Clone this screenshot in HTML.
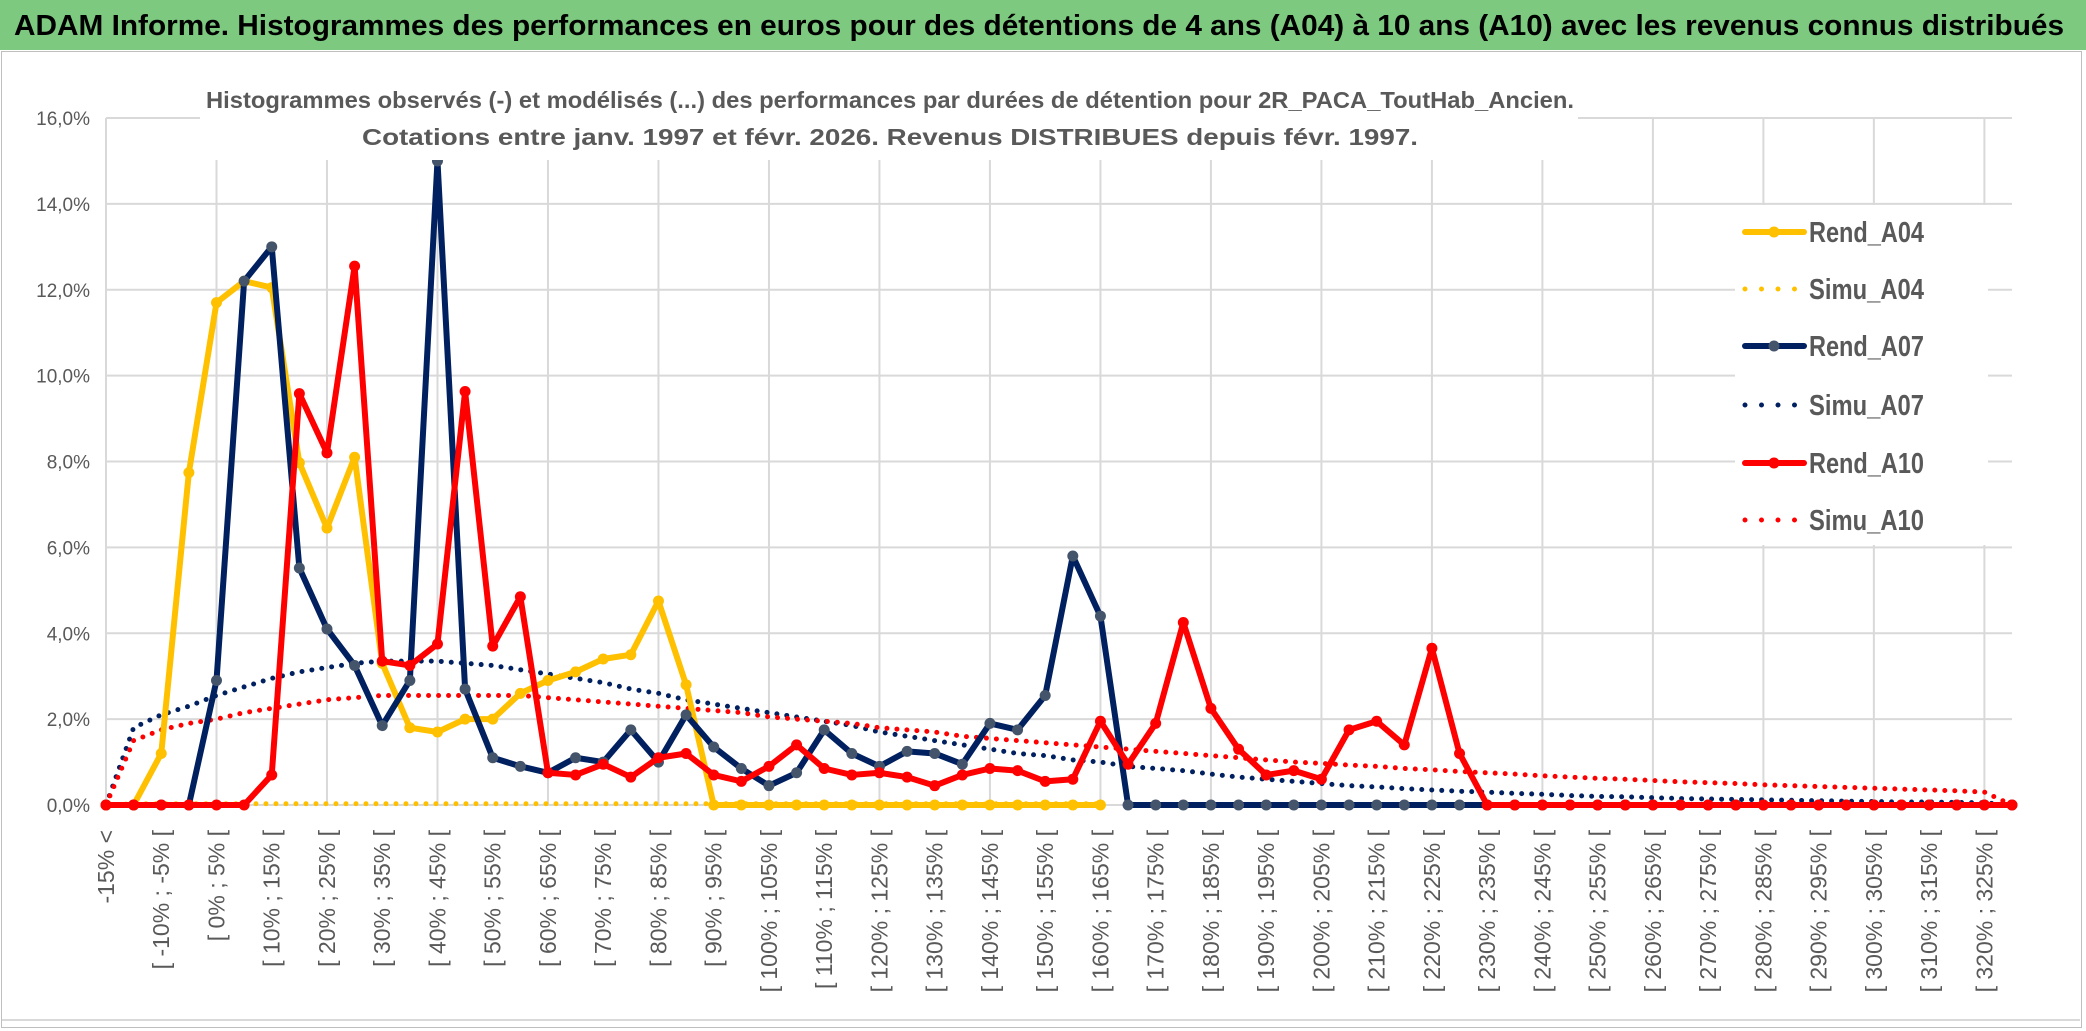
<!DOCTYPE html>
<html><head><meta charset="utf-8"><style>
html,body{margin:0;padding:0;background:#fff;}
svg{display:block;font-family:"Liberation Sans",sans-serif;}
</style></head><body>
<svg id="chart" width="2086" height="1031" viewBox="0 0 2086 1031">
<rect x="0" y="0" width="2086" height="1031" fill="#fff"/>
<rect x="0" y="0" width="2086" height="50" fill="#7dc97f"/>
<text x="14" y="35" font-size="29" font-weight="bold" fill="#000" textLength="2050" lengthAdjust="spacingAndGlyphs">ADAM Informe. Histogrammes des performances en euros pour des détentions de 4 ans (A04) à 10 ans (A10) avec les revenus connus distribués</text>
<rect x="1.5" y="51.5" width="2080" height="976" fill="none" stroke="#bfbfbf" stroke-width="1"/>
<line x1="2" x2="2080" y1="1020" y2="1020" stroke="#d9d9d9" stroke-width="2"/>
<g id="grid"></g>
<g id="series"></g>
<g id="axes"></g>
<rect x="200" y="80" width="1378" height="80" fill="#fff"/>
<text x="890" y="108" text-anchor="middle" font-size="23" font-weight="bold" fill="#595959" textLength="1368" lengthAdjust="spacingAndGlyphs">Histogrammes observés (-) et modélisés (...) des performances par durées de détention pour 2R_PACA_ToutHab_Ancien.</text>
<text x="890" y="145" text-anchor="middle" font-size="23" font-weight="bold" fill="#595959" textLength="1056" lengthAdjust="spacingAndGlyphs">Cotations entre janv. 1997 et févr. 2026. Revenus DISTRIBUES depuis févr. 1997.</text>
<g id="legend"></g>
</svg>
<script>
const categories = [];
categories.push('-15% <');
for (let a=-15; a<330; a+=5) categories.push('[ '+a+'% ; '+(a+5)+'% [');
const yTicks = [0,2,4,6,8,10,12,14,16];
const rendA04 = [0,0,1.2,7.74,11.7,12.2,12.05,7.97,6.45,8.1,3.3,1.8,1.7,2.0,2.0,2.6,2.9,3.1,3.4,3.5,4.75,2.8,0,0,0,0,0,0,0,0,0,0,0,0,0,0,0];
const simuA04 = [0,0.03,0.03,0.03,0.03,0.03,0.03,0.03,0.03,0.03,0.03,0.03,0.03,0.03,0.03,0.03,0.03,0.03,0.03,0.03,0.03,0.03,0.03,0.03,0.03,0.03,0.03,0.03,0.03,0.03,0.03,0.03,0.03,0.03,0.03,0.03,0.03];
const rendA07 = [0,0,0,0,2.9,12.2,13.0,5.52,4.1,3.25,1.85,2.9,15.0,2.7,1.1,0.9,0.75,1.1,1.0,1.75,1.0,2.1,1.35,0.85,0.45,0.75,1.75,1.2,0.9,1.25,1.2,0.95,1.9,1.75,2.55,5.8,4.4,0,0,0,0,0,0,0,0,0,0,0,0,0,0,0,0,0,0,0,0,0,0,0,0,0,0,0,0,0,0,0,0,0];
const simuA07 = [0,1.8,2.1,2.3,2.55,2.75,2.95,3.1,3.2,3.3,3.35,3.35,3.35,3.3,3.25,3.15,3.05,2.95,2.85,2.7,2.6,2.45,2.35,2.25,2.15,2.05,1.95,1.85,1.7,1.6,1.5,1.4,1.3,1.2,1.15,1.05,1.0,0.9,0.85,0.8,0.72,0.65,0.6,0.55,0.5,0.45,0.42,0.38,0.35,0.32,0.3,0.27,0.25,0.22,0.2,0.19,0.17,0.15,0.14,0.13,0.12,0.11,0.1,0.09,0.08,0.07,0.07,0.06,0.05,0];
const rendA10 = [0,0,0,0,0,0,0.7,9.58,8.2,12.55,3.35,3.25,3.75,9.63,3.7,4.85,0.75,0.7,0.95,0.65,1.1,1.2,0.7,0.55,0.9,1.4,0.85,0.7,0.75,0.65,0.45,0.7,0.85,0.8,0.55,0.6,1.95,0.95,1.9,4.25,2.25,1.3,0.7,0.8,0.6,1.75,1.95,1.4,3.65,1.2,0,0,0,0,0,0,0,0,0,0,0,0,0,0,0,0,0,0,0,0];
const simuA10 = [0,1.5,1.75,1.9,2.0,2.15,2.25,2.35,2.45,2.5,2.55,2.55,2.55,2.55,2.55,2.55,2.5,2.45,2.4,2.35,2.3,2.25,2.2,2.15,2.05,2.0,1.95,1.9,1.8,1.75,1.7,1.6,1.55,1.5,1.45,1.4,1.35,1.3,1.25,1.2,1.15,1.1,1.05,1.0,0.97,0.93,0.9,0.85,0.82,0.78,0.75,0.72,0.68,0.65,0.62,0.6,0.57,0.54,0.52,0.5,0.47,0.45,0.43,0.41,0.39,0.37,0.35,0.33,0.3,0];

const NS='http://www.w3.org/2000/svg';
const X0=106, X1=2012, Y0=805, Y16=118;
const step=(X1-X0)/(categories.length-1);
function xs(i){return X0+i*step;}
function ys(v){return Y0-(v/16)*(Y0-Y16);}
function mk(tag,attrs,parent){const e=document.createElementNS(NS,tag);for(const k in attrs)e.setAttribute(k,attrs[k]);parent.appendChild(e);return e;}
const grid=document.getElementById('grid'), axes=document.getElementById('axes'), ser=document.getElementById('series'), leg=document.getElementById('legend');
yTicks.forEach(t=>{
  const l=mk('line',{x1:X0,x2:X1,y1:ys(t),y2:ys(t),stroke:'#d9d9d9','stroke-width':2},grid);
  
  
  const tx=mk('text',{x:90,y:ys(t)+7,'text-anchor':'end','font-size':19,fill:'#595959'},axes);
  tx.textContent=t.toFixed(1).replace('.',',')+'%';
  
  
});
for(let i=0;i<categories.length;i+=4){
  const l=mk('line',{x1:xs(i),x2:xs(i),y1:Y16,y2:Y0,stroke:'#d9d9d9','stroke-width':2},grid);
  
  
}
for(let i=0;i<categories.length-1;i+=2){
  const tx=mk('text',{x:0,y:0,'text-anchor':'end','font-size':23,fill:'#595959',transform:'translate('+(xs(i)+8)+',830) rotate(-90)'},axes);
  tx.textContent=categories[i];
  
  
}
function pts(arr){return arr.map((v,i)=>xs(i)+','+ys(v)).join(' ');}
function dotted(arr,color,name){
  const p=mk('polyline',{points:pts(arr),fill:'none',stroke:color,'stroke-width':5,'stroke-linecap':'round','stroke-dasharray':'0 10'},ser);
  
  
}
function solid(arr,color,mcol,name){
  const p=mk('polyline',{points:pts(arr),fill:'none',stroke:color,'stroke-width':6,'stroke-linejoin':'round'},ser);
  
  
  arr.forEach((v,i)=>{
    const c=mk('circle',{cx:xs(i),cy:ys(v),r:5.5,fill:mcol},ser);
    
    
  });
}
dotted(simuA04,'#ffc000','simu-a04-line');
dotted(simuA07,'#002060','simu-a07-line');
dotted(simuA10,'#ff0000','simu-a10-line');
solid(rendA04,'#ffc000','#ffc000','rend-a04-line');
solid(rendA07,'#002060','#44546a','rend-a07-line');
solid(rendA10,'#ff0000','#ff0000','rend-a10-line');

mk('rect',{x:1735,y:205,width:253,height:340,fill:'#fff'},leg);
const entries=[['Rend_A04','#ffc000','#ffc000',false],['Simu_A04','#ffc000','',true],['Rend_A07','#002060','#44546a',false],['Simu_A07','#002060','',true],['Rend_A10','#ff0000','#ff0000',false],['Simu_A10','#ff0000','',true]];
const ly=[232,289,346,405,463,520];
entries.forEach((e,i)=>{
  const g=mk('g',{},leg);
  
  
  if(e[3]){
    mk('line',{x1:1745,x2:1805,y1:ly[i],y2:ly[i],stroke:e[1],'stroke-width':5,'stroke-linecap':'round','stroke-dasharray':'0 16.5'},g);
  } else {
    mk('line',{x1:1745,x2:1804,y1:ly[i],y2:ly[i],stroke:e[1],'stroke-width':6,'stroke-linecap':'round'},g);
    mk('circle',{cx:1774,cy:ly[i],r:5.5,fill:e[2]},g);
  }
  const t=mk('text',{x:1809,y:ly[i]+10,'font-size':29,'font-weight':'bold',fill:'#595959',textLength:115,lengthAdjust:'spacingAndGlyphs'},g);
  t.textContent=e[0];
});
</script>
</body></html>
